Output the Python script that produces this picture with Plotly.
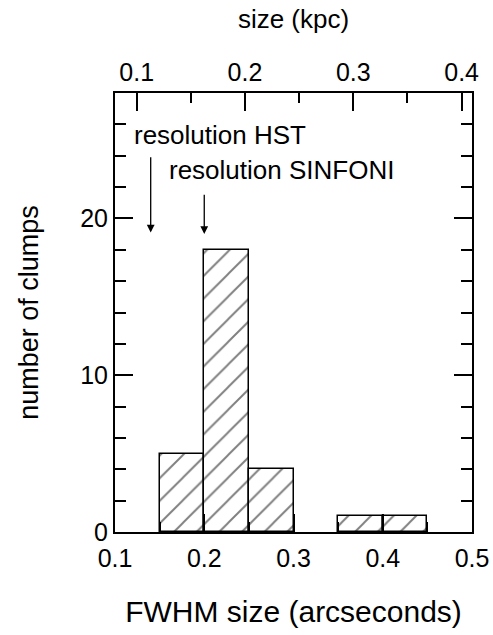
import plotly.graph_objects as go

# data
bin_left = [0.15, 0.20, 0.25, 0.35, 0.40]
counts = [5, 18, 4, 1, 1]
bin_width = 0.05
x_range = [0.1, 0.5]
kpc_range = [0.08, 0.4096]
y_range = [0, 28]
x_ticks = [0.1, 0.2, 0.3, 0.4, 0.5]
kpc_ticks = [0.1, 0.2, 0.3, 0.4]
y_ticks = [0, 10, 20]
res_hst = 0.14
res_sinfoni = 0.20

FONT = "Liberation Sans, Arial, sans-serif"
centers = [b + bin_width / 2 for b in bin_left]

fig = go.Figure()
fig.add_trace(go.Bar(
    x=centers, y=counts, width=bin_width,
    marker=dict(color="white",
                line=dict(color="black", width=1.5),
                pattern=dict(shape="/", fgcolor="black", bgcolor="white",
                             size=16, solidity=0.12, fillmode="overlay")),
    showlegend=False, hoverinfo="skip"))
fig.add_trace(go.Scatter(x=kpc_range, y=[None, None], xaxis="x2",
                         mode="markers", showlegend=False, hoverinfo="skip"))

axis_common = dict(showline=True, linecolor="black", linewidth=2,
                   ticks="inside", tickcolor="black", tickwidth=1.5,
                   ticklen=18, showgrid=False, zeroline=False, automargin=False,
                   tickfont=dict(family=FONT, size=25, color="black"))

fig.update_layout(
    width=493, height=635,
    margin=dict(l=115, r=21, t=93, b=103),
    plot_bgcolor="white", paper_bgcolor="white",
    bargap=0,
    xaxis=dict(range=x_range, tickvals=x_ticks, ticktext=[f"{v:.1f}" for v in x_ticks],
               mirror=True, ticklabelstandoff=3,
               minor=dict(ticks="inside", ticklen=10, dtick=0.05, tickcolor="black", tickwidth=1.5),
               title=dict(text="FWHM size (arcseconds)", standoff=30,
                          font=dict(family=FONT, size=30, color="black")),
               **axis_common),
    xaxis2=dict(range=kpc_range, overlaying="x", side="top", anchor="y",
                tickvals=kpc_ticks, ticktext=[f"{v:.1f}" for v in kpc_ticks],
                minor=dict(ticks="inside", ticklen=10, tickvals=[0.15, 0.25, 0.35],
                           tickcolor="black", tickwidth=1.5),
                title=dict(text="size (kpc)", standoff=22,
                           font=dict(family=FONT, size=26, color="black")),
                **axis_common),
    yaxis=dict(range=y_range, tickvals=y_ticks, mirror="ticks",
               minor=dict(ticks="inside", ticklen=11, dtick=2, tickcolor="black", tickwidth=1.5),
               title=dict(text="number of clumps", standoff=34,
                          font=dict(family=FONT, size=27, color="black")),
               **axis_common),
)

# arrows
fig.add_annotation(x=res_hst, y=19.1, ax=res_hst, ay=24.0, xref="x", yref="y",
                   axref="x", ayref="y", showarrow=True, arrowhead=2,
                   arrowsize=1.2, arrowwidth=1.3, arrowcolor="black", text="")
fig.add_annotation(x=res_sinfoni, y=19.0, ax=res_sinfoni, ay=21.6, xref="x", yref="y",
                   axref="x", ayref="y", showarrow=True, arrowhead=2,
                   arrowsize=1.2, arrowwidth=1.3, arrowcolor="black", text="")
fig.add_annotation(x=0.1195, y=25.3, xref="x", yref="y", text="resolution HST",
                   showarrow=False, xanchor="left", yanchor="middle",
                   font=dict(family=FONT, size=26, color="black"))
fig.add_annotation(x=0.158, y=23.1, xref="x", yref="y", text="resolution SINFONI",
                   showarrow=False, xanchor="left", yanchor="middle",
                   font=dict(family=FONT, size=26, color="black"))

fig.write_html("out.html")
